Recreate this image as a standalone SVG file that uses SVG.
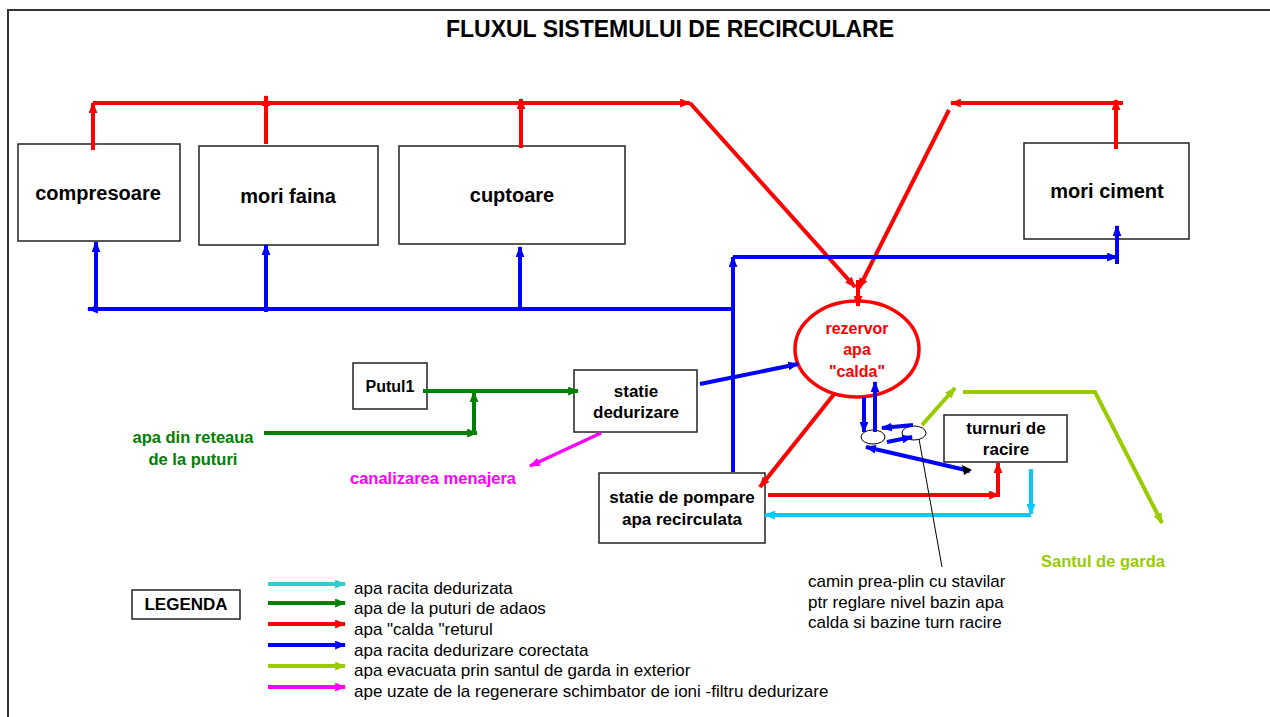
<svg xmlns="http://www.w3.org/2000/svg" width="1270" height="717" viewBox="0 0 1270 717">
<style>
.box{fill:#fff;stroke:#222;stroke-width:1.5}
.lbl{font-family:"Liberation Sans",Arial,sans-serif;font-weight:bold;text-anchor:middle;fill:#000}
.big{font-size:20px}
.mid{font-size:17px}
.r{stroke:#ff0000;stroke-width:4;fill:none}
.b{stroke:#0000ff;stroke-width:4;fill:none}
.g{stroke:#008000;stroke-width:4;fill:none}
.c{stroke:#00ccff;stroke-width:4;fill:none}
.y{stroke:#99cc00;stroke-width:4;fill:none}
.m{stroke:#ff00ff;stroke-width:3.5;fill:none}
.leg{font-family:"Liberation Sans",Arial,sans-serif;font-size:17px;fill:#000}
.note{font-family:"Liberation Sans",Arial,sans-serif;font-size:17px;fill:#000}
</style>
<defs>
<marker id="aR" viewBox="0 0 10 8" refX="9" refY="4" markerWidth="11" markerHeight="9" markerUnits="userSpaceOnUse" orient="auto"><path d="M0,0 L10,4 L0,8 z" fill="#ff0000"/></marker>
<marker id="aB" viewBox="0 0 10 8" refX="9" refY="4" markerWidth="11" markerHeight="9" markerUnits="userSpaceOnUse" orient="auto"><path d="M0,0 L10,4 L0,8 z" fill="#0000ff"/></marker>
<marker id="aG" viewBox="0 0 10 8" refX="9" refY="4" markerWidth="11" markerHeight="9" markerUnits="userSpaceOnUse" orient="auto"><path d="M0,0 L10,4 L0,8 z" fill="#008000"/></marker>
<marker id="aC" viewBox="0 0 10 8" refX="9" refY="4" markerWidth="11" markerHeight="9" markerUnits="userSpaceOnUse" orient="auto"><path d="M0,0 L10,4 L0,8 z" fill="#00ccff"/></marker>
<marker id="aY" viewBox="0 0 10 8" refX="9" refY="4" markerWidth="11" markerHeight="9" markerUnits="userSpaceOnUse" orient="auto"><path d="M0,0 L10,4 L0,8 z" fill="#99cc00"/></marker>
<marker id="aM" viewBox="0 0 10 8" refX="9" refY="4" markerWidth="11" markerHeight="9" markerUnits="userSpaceOnUse" orient="auto"><path d="M0,0 L10,4 L0,8 z" fill="#ff00ff"/></marker>
<marker id="aT" viewBox="0 0 10 8" refX="9" refY="4" markerWidth="11" markerHeight="9" markerUnits="userSpaceOnUse" orient="auto"><path d="M0,0 L10,4 L0,8 z" fill="#33cccc"/></marker>
</defs>
<rect width="1270" height="717" fill="#fff"/>
<path d="M8,717 V10 H1270" fill="none" stroke="#333" stroke-width="2"/>
<text x="670" y="37" class="lbl" style="font-size:23px">FLUXUL SISTEMULUI DE RECIRCULARE</text>

<g id="compresoare"><rect class="box" x="18" y="144" width="162" height="97"/><text class="lbl big" x="98" y="200">compresoare</text></g>
<g id="mori-faina"><rect class="box" x="199" y="146" width="179" height="99"/><text class="lbl big" x="288" y="203">mori faina</text></g>
<g id="cuptoare"><rect class="box" x="399" y="146" width="226" height="98"/><text class="lbl big" x="512" y="202">cuptoare</text></g>
<g id="mori-ciment"><rect class="box" x="1024" y="143" width="165" height="96"/><text class="lbl big" x="1107" y="198">mori ciment</text></g>
<g id="rezervor"><ellipse cx="857" cy="349" rx="62" ry="48" fill="#fff" stroke="#ff0000" stroke-width="3.5"/><text class="lbl" style="font-size:16px;fill:#ff0000" x="857" y="334">rezervor</text><text class="lbl" style="font-size:16px;fill:#ff0000" x="857" y="355">apa</text><text class="lbl" style="font-size:16px;fill:#ff0000" x="857" y="377">"calda"</text></g>
<g id="putul1"><rect class="box" x="353" y="363" width="74" height="46"/><text class="lbl" style="font-size:16px" x="390" y="392">Putul1</text></g>
<g id="statie-dedurizare"><rect class="box" x="574" y="370" width="123" height="62"/><text class="lbl mid" x="636" y="397">statie</text><text class="lbl mid" x="636" y="418">dedurizare</text></g>
<g id="statie-pompare"><rect class="box" x="599" y="473" width="166" height="70"/><text class="lbl mid" x="682" y="503">statie de pompare</text><text class="lbl mid" x="682" y="525">apa recirculata</text></g>
<g id="turnuri"><rect class="box" x="944" y="415" width="123" height="47"/><text class="lbl mid" x="1006" y="434">turnuri de</text><text class="lbl mid" x="1006" y="455">racire</text></g>
<g id="camin"><ellipse cx="873" cy="437" rx="12" ry="7" fill="#fff" stroke="#000" stroke-width="1"/><ellipse cx="914" cy="433" rx="12" ry="7" fill="#fff" stroke="#000" stroke-width="1"/></g>
<g id="apa-retea"><text class="lbl" style="font-size:16.5px;fill:#008000" x="193" y="443">apa din reteaua</text><text class="lbl" style="font-size:16.5px;fill:#008000" x="193" y="465">de la puturi</text></g>
<g id="canalizare"><text class="lbl" style="font-size:16.5px;fill:#ff00ff" x="433" y="484">canalizarea menajera</text></g>
<g id="santul"><text class="lbl" style="font-size:16.5px;fill:#99cc00" x="1103" y="567">Santul de garda</text></g>
<g id="nota"><text class="note" x="808" y="587">camin prea-plin cu stavilar</text><text class="note" x="808" y="608">ptr reglare nivel bazin apa</text><text class="note" x="808" y="628">calda si bazine turn racire</text></g>

<g id="connectors">
<path class="r" d="M93,150 V103" marker-end="url(#aR)"/>
<path class="r" d="M93,103 H690" marker-end="url(#aR)"/>
<path class="r" d="M266,144 V96" marker-end="url(#aR)"/>
<path class="r" d="M521,148 V99" marker-end="url(#aR)"/>
<path class="r" d="M690,103 L855,287" marker-end="url(#aR)"/>
<path class="r" d="M1116,149 V100" marker-end="url(#aR)"/>
<path class="r" d="M1123,103 H951" marker-end="url(#aR)"/>
<path class="r" d="M949,110 L859,288" marker-end="url(#aR)"/>
<path class="r" d="M858,280 V306" marker-end="url(#aR)"/>
<path class="r" d="M835,393 L760,487" marker-end="url(#aR)"/>
<path class="r" d="M768,495 H999" marker-end="url(#aR)"/>
<path class="r" d="M998,497 V463" marker-end="url(#aR)"/>

<path class="b" d="M733,309 H88" marker-end="url(#aB)"/>
<path class="b" d="M96,309 V242" marker-end="url(#aB)"/>
<path class="b" d="M266,312 V245" marker-end="url(#aB)"/>
<path class="b" d="M520,309 V247" marker-end="url(#aB)"/>
<path class="b" d="M733,472 V257" marker-end="url(#aB)"/>
<path class="b" d="M733,257 H1117" marker-end="url(#aB)"/>
<path class="b" d="M1117,264 V226" marker-end="url(#aB)"/>
<path class="b" d="M700,384 L798,364" marker-end="url(#aB)"/>
<path class="b" d="M864,397 V432" marker-end="url(#aB)"/>
<path class="b" d="M875,432 V382" marker-end="url(#aB)"/>
<path class="b" d="M913,425 L882,428" stroke-width="3" marker-end="url(#aB)"/>
<path class="b" d="M887,442 L912,437" stroke-width="2" marker-end="url(#aB)"/>
<path class="b" d="M970,471 L866,447" marker-end="url(#aB)"/>
<path d="M962,465 L972,470 L964,475 z" fill="#000"/>

<path class="g" d="M423,391 H578" marker-end="url(#aG)"/>
<path class="g" d="M264,433 H477" marker-end="url(#aG)"/>
<path class="g" d="M474,433 V392" marker-end="url(#aG)"/>

<path class="m" d="M601,433 L530,466" marker-end="url(#aM)"/>

<path class="c" d="M1031,469 V514" marker-end="url(#aC)"/>
<path class="c" d="M1031,515 H765" marker-end="url(#aC)"/>

<path class="y" d="M922,425 L955,388" marker-end="url(#aY)"/>
<path class="y" d="M963,392 H1095 L1162,523" marker-end="url(#aY)"/>

<path d="M919,439 L942,567" stroke="#000" stroke-width="1" fill="none"/>
</g>

<g id="legenda">
<rect class="box" x="132" y="590" width="108" height="29"/>
<text class="lbl" style="font-size:17px" x="186" y="610">LEGENDA</text>
<path d="M268,584 H345" stroke="#33cccc" stroke-width="4" marker-end="url(#aT)"/>
<path d="M268,603 H345" stroke="#008000" stroke-width="4" marker-end="url(#aG)"/>
<path d="M268,624 H345" stroke="#ff0000" stroke-width="4" marker-end="url(#aR)"/>
<path d="M268,645 H345" stroke="#0000ff" stroke-width="4" marker-end="url(#aB)"/>
<path d="M268,666 H345" stroke="#99cc00" stroke-width="4" marker-end="url(#aY)"/>
<path d="M268,687 H345" stroke="#ff00ff" stroke-width="4" marker-end="url(#aM)"/>
<text class="leg" x="354" y="594">apa racita dedurizata</text>
<text class="leg" x="354" y="614">apa de la puturi de adaos</text>
<text class="leg" x="354" y="635">apa "calda "returul</text>
<text class="leg" x="354" y="656">apa racita dedurizare corectata</text>
<text class="leg" x="354" y="676">apa evacuata prin santul de garda in exterior</text>
<text class="leg" x="354" y="697">ape uzate de la regenerare schimbator de ioni -filtru dedurizare</text>
</g>
</svg>
